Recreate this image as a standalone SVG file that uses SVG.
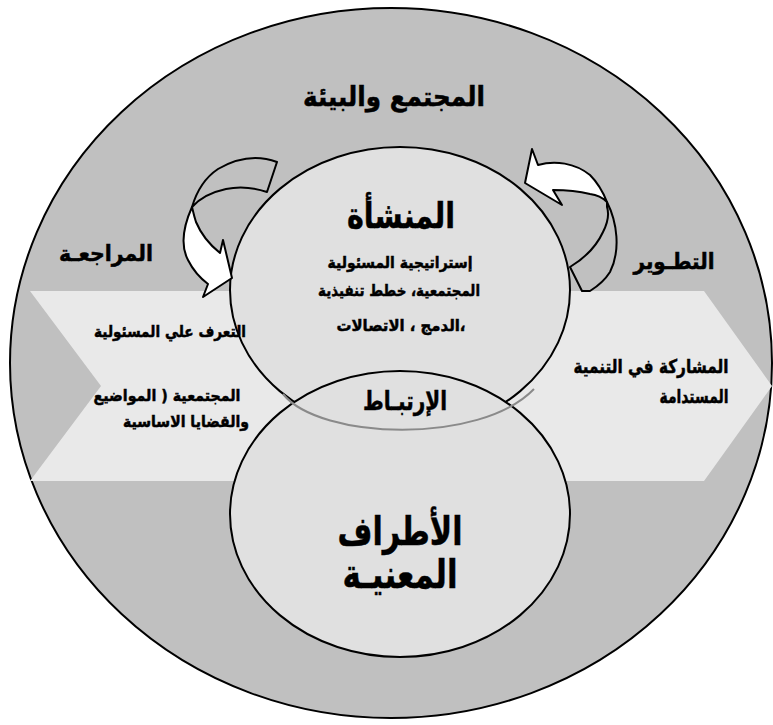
<svg xmlns="http://www.w3.org/2000/svg" width="773" height="725" viewBox="0 0 773 725">
<style>
.t{font-family:"DejaVu Sans","Liberation Sans",sans-serif;font-weight:bold;fill:#000;stroke:#000;stroke-width:0.5;text-anchor:middle;direction:rtl}
.ln{stroke:#000;stroke-width:2;stroke-linejoin:round}
</style>
<rect width="773" height="725" fill="#fff"/>
<g id="environment">
<ellipse cx="391" cy="363" rx="381" ry="355" fill="#c0c0c0" class="ln"/>
</g>
<g id="band">
<path d="M30,291 L704,291 L772,386 L704,481 L30,481 L101,386 Z" fill="#e9e9e9"/>
</g>
<g id="organization">
<ellipse cx="400" cy="290" rx="170" ry="143" fill="#e0e0e0" class="ln"/>
</g>
<g id="stakeholders">
<ellipse cx="400" cy="514" rx="170" ry="143" fill="#e0e0e0" class="ln"/>
</g>
<g id="connectors">
<path d="M283,394 C320,440 480,445 534,389" fill="none" stroke="#8a8a8a" stroke-width="2"/>
<path class="ln" fill="#c0c0c0" d="M277,162 C258,155 237,158 218,169 C206,177 197,190 192,207 C200,198 212,192 226,189 C240,186 255,188 267,192 Z"/>
<path class="ln" fill="#fff" d="M192,207 C184,225 180,245 188,260 C193,270 200,278 208,284 L203,297 L232,278 L223,240 L220,253 C210,245 201,234 196,222 C194,216 193,211 192,207 Z"/>
<path class="ln" fill="#fff" d="M538,165 C555,160 575,163 590,175 C598,183 603,192 607,202 C603,198 598,195 590,194 C578,191 565,190 553,190 L562,205 L525,183 L532,149 Z"/>
<path class="ln" fill="#c0c0c0" d="M607,202 C617,222 621,250 610,272 C605,280 598,286 590,291 L582,291 L570,267 C585,258 597,245 603,232 C608,222 609,213 607,207 Z"/>
</g>
<g id="labels">
<text class="t" x="394" y="106" font-size="27" textLength="182" lengthAdjust="spacingAndGlyphs">المجتمع والبيئة</text>
<text class="t" x="106" y="261" font-size="22" textLength="94" lengthAdjust="spacingAndGlyphs">المراجعـة</text>
<text class="t" x="674" y="269" font-size="22" textLength="81" lengthAdjust="spacingAndGlyphs">التطـوير</text>
<text class="t" x="401" y="228" font-size="36" stroke-width="0.8" textLength="108" lengthAdjust="spacingAndGlyphs">المنشأة</text>
<text class="t" x="400" y="268" font-size="16" textLength="145" lengthAdjust="spacingAndGlyphs">إستراتيجية المسئولية</text>
<text class="t" x="399" y="296" font-size="16" textLength="162" lengthAdjust="spacingAndGlyphs">المجتمعية، خطط تنفيذية</text>
<text class="t" x="401" y="331" font-size="16" textLength="129" lengthAdjust="spacingAndGlyphs">،الدمج ، الاتصالات</text>
<text class="t" x="170" y="337" font-size="16" textLength="152" lengthAdjust="spacingAndGlyphs">التعرف علي المسئولية</text>
<text class="t" x="167" y="401" font-size="16" textLength="147" lengthAdjust="spacingAndGlyphs">المجتمعية ( المواضيع</text>
<text class="t" x="186" y="427" font-size="16" textLength="126" lengthAdjust="spacingAndGlyphs">والقضايا الاساسية</text>
<text class="t" x="651" y="373" font-size="19" textLength="155" lengthAdjust="spacingAndGlyphs">المشاركة في التنمية</text>
<text class="t" x="694" y="403" font-size="19" textLength="69" lengthAdjust="spacingAndGlyphs">المستدامة</text>
<text class="t" x="405" y="410" font-size="26" textLength="84" lengthAdjust="spacingAndGlyphs">الإرتبـاط</text>
<text class="t" x="400" y="545" font-size="40" stroke-width="0.8" textLength="125" lengthAdjust="spacingAndGlyphs">الأطراف</text>
<text class="t" x="400" y="588" font-size="40" stroke-width="0.8" textLength="115" lengthAdjust="spacingAndGlyphs">المعنيـة</text>
</g>
</svg>
